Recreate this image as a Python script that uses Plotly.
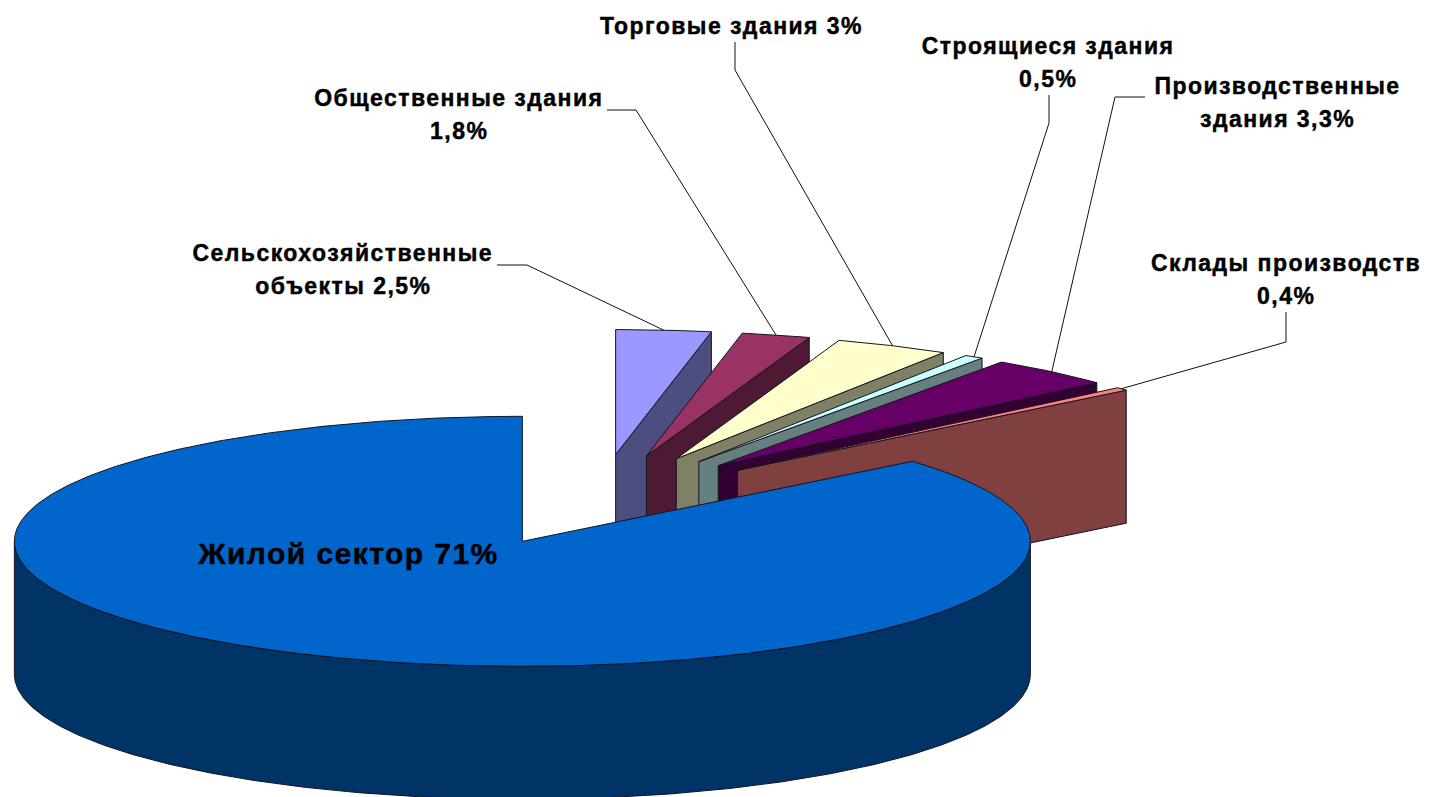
import numpy as np
import plotly.graph_objects as go

# ---- data (drawn clockwise from 12 o'clock) ----
sectors = ["Сельскохозяйственные объекты", "Общественные здания", "Торговые здания",
           "Строящиеся здания", "Производственные здания", "Склады производств", "Жилой сектор"]
values = [2.5, 1.8, 3.0, 0.5, 3.3, 0.4, 71.0]
label_lines = [
    ["Сельскохозяйственные", "объекты 2,5%"],
    ["Общественные здания", "1,8%"],
    ["Торговые здания 3%"],
    ["Строящиеся здания", "0,5%"],
    ["Производственные", "здания 3,3%"],
    ["Склады производств", "0,4%"],
    ["Жилой сектор 71%"],
]

# ---- styles ----
top_colors = ["#9999FF", "#993366", "#FFFFCC", "#CCFFFF", "#660066", "#FF8080", "#0066CC"]
wall_colors = ["#4D4D80", "#4D1933", "#808066", "#668080", "#330033", "#804040", "#003366"]
EDGE = "#15151f"

# ---- pie projection (pixel-sized axes) ----
CX, CY = 598.0, 500.0     # pie centre
RY = 125.0                # ellipse radius, vertical
RX_FRONT, RX_REAR = 508.0, 506.0   # horizontal radius (slight perspective for the far slices)
DEPTH = 133.0             # pie thickness
EXPLODE = 0.365           # explosion as share of radius
nudge_x = [0, 1, -1, 0, -2, -1, 3]

label_x = [343, 459, 731, 1048, 1277, 1286, 348]
label_y = [253, 98, 26, 46, 86, 263, 553]
LINE_GAP = 33
font_sizes = [23, 23, 23, 23, 23, 23, 30]
# elbow paths of the leader lines, from the label towards the slice
leaders = [
    [(497, 265), (527, 265)],
    [(607, 110), (636, 110)],
    [(735, 42), (735, 70)],
    [(1049, 95), (1049, 123)],
    [(1145, 97), (1115, 97)],
    [(1286, 312), (1286, 342)],
    None,
]

fig = go.Figure()


def poly(xs, ys, fill, width=1.0):
    fig.add_trace(go.Scatter(x=xs, y=ys, mode="lines", fill="toself", fillcolor=fill,
                             line=dict(color=EDGE, width=width), hoverinfo="skip",
                             showlegend=False))


def pt(cx, cy, deg, rx):
    r = np.radians(deg)
    return cx + rx * np.sin(r), cy - RY * np.cos(r)


sweeps = np.array(values) / sum(values) * 360.0
ends = np.cumsum(sweeps)
starts = ends - sweeps

for i in range(len(values)):
    s, e = starts[i], ends[i]
    m = (s + e) / 2
    mr = np.radians(m)
    cx = CX + EXPLODE * RX_FRONT * np.sin(mr) + nudge_x[i]
    cy = CY - EXPLODE * RY * np.cos(mr)
    rx_i = RX_REAR if e < 180 else RX_FRONT
    arc = np.linspace(s, e, max(8, int(e - s) * 2))
    ax, ay = pt(cx, cy, arc, rx_i)

    # radial wall at the slice's clockwise end: only for the small rear slices
    if e < 180:
        wx = [cx, ax[-1], ax[-1], cx, cx]
        wy = [cy, ay[-1], ay[-1] + DEPTH, cy + DEPTH, cy]
        poly(wx, wy, wall_colors[i])
    # outer wall where the rim faces the viewer
    lo, hi = max(s, 90), min(e, 270)
    if hi > lo:
        ra = np.linspace(lo, hi, 300)
        rx, ry = pt(cx, cy, ra, rx_i)
        poly(np.r_[rx, rx[::-1], rx[0]], np.r_[ry, ry[::-1] + DEPTH, ry[0]], wall_colors[i])
    # top face
    poly(np.r_[cx, ax, cx], np.r_[cy, ay, cy], top_colors[i])

    # leader line and labels
    if leaders[i] is not None:
        lx, ly = pt(cx, cy, m, rx_i)
        pts = leaders[i]
        fig.add_trace(go.Scatter(x=[p[0] for p in pts] + [lx], y=[p[1] for p in pts] + [ly],
                                 mode="lines", line=dict(color="#111111", width=1),
                                 hoverinfo="skip", showlegend=False))
    for k, line in enumerate(label_lines[i]):
        fig.add_annotation(x=label_x[i], y=label_y[i] + k * LINE_GAP, text=line, showarrow=False,
                           xanchor="center", yanchor="middle",
                           font=dict(family="Liberation Sans", size=font_sizes[i], color="#000000",
                                     weight="bold"))

fig.update_xaxes(range=[0, 1433], visible=False, fixedrange=True)
fig.update_yaxes(range=[797, 0], visible=False, fixedrange=True)
fig.update_layout(width=1433, height=797, margin=dict(l=0, r=0, t=0, b=0),
                  paper_bgcolor="white", plot_bgcolor="white", showlegend=False)
post = """
document.body.style.margin='0';document.body.style.overflow='hidden';
var st=document.createElement('style');
st.textContent='.annotation-text{letter-spacing:1.45px;stroke:#000;stroke-width:0.45px;}';
document.head.appendChild(st);
"""
fig.write_html("out.html", config={"displayModeBar": False}, post_script=post)
